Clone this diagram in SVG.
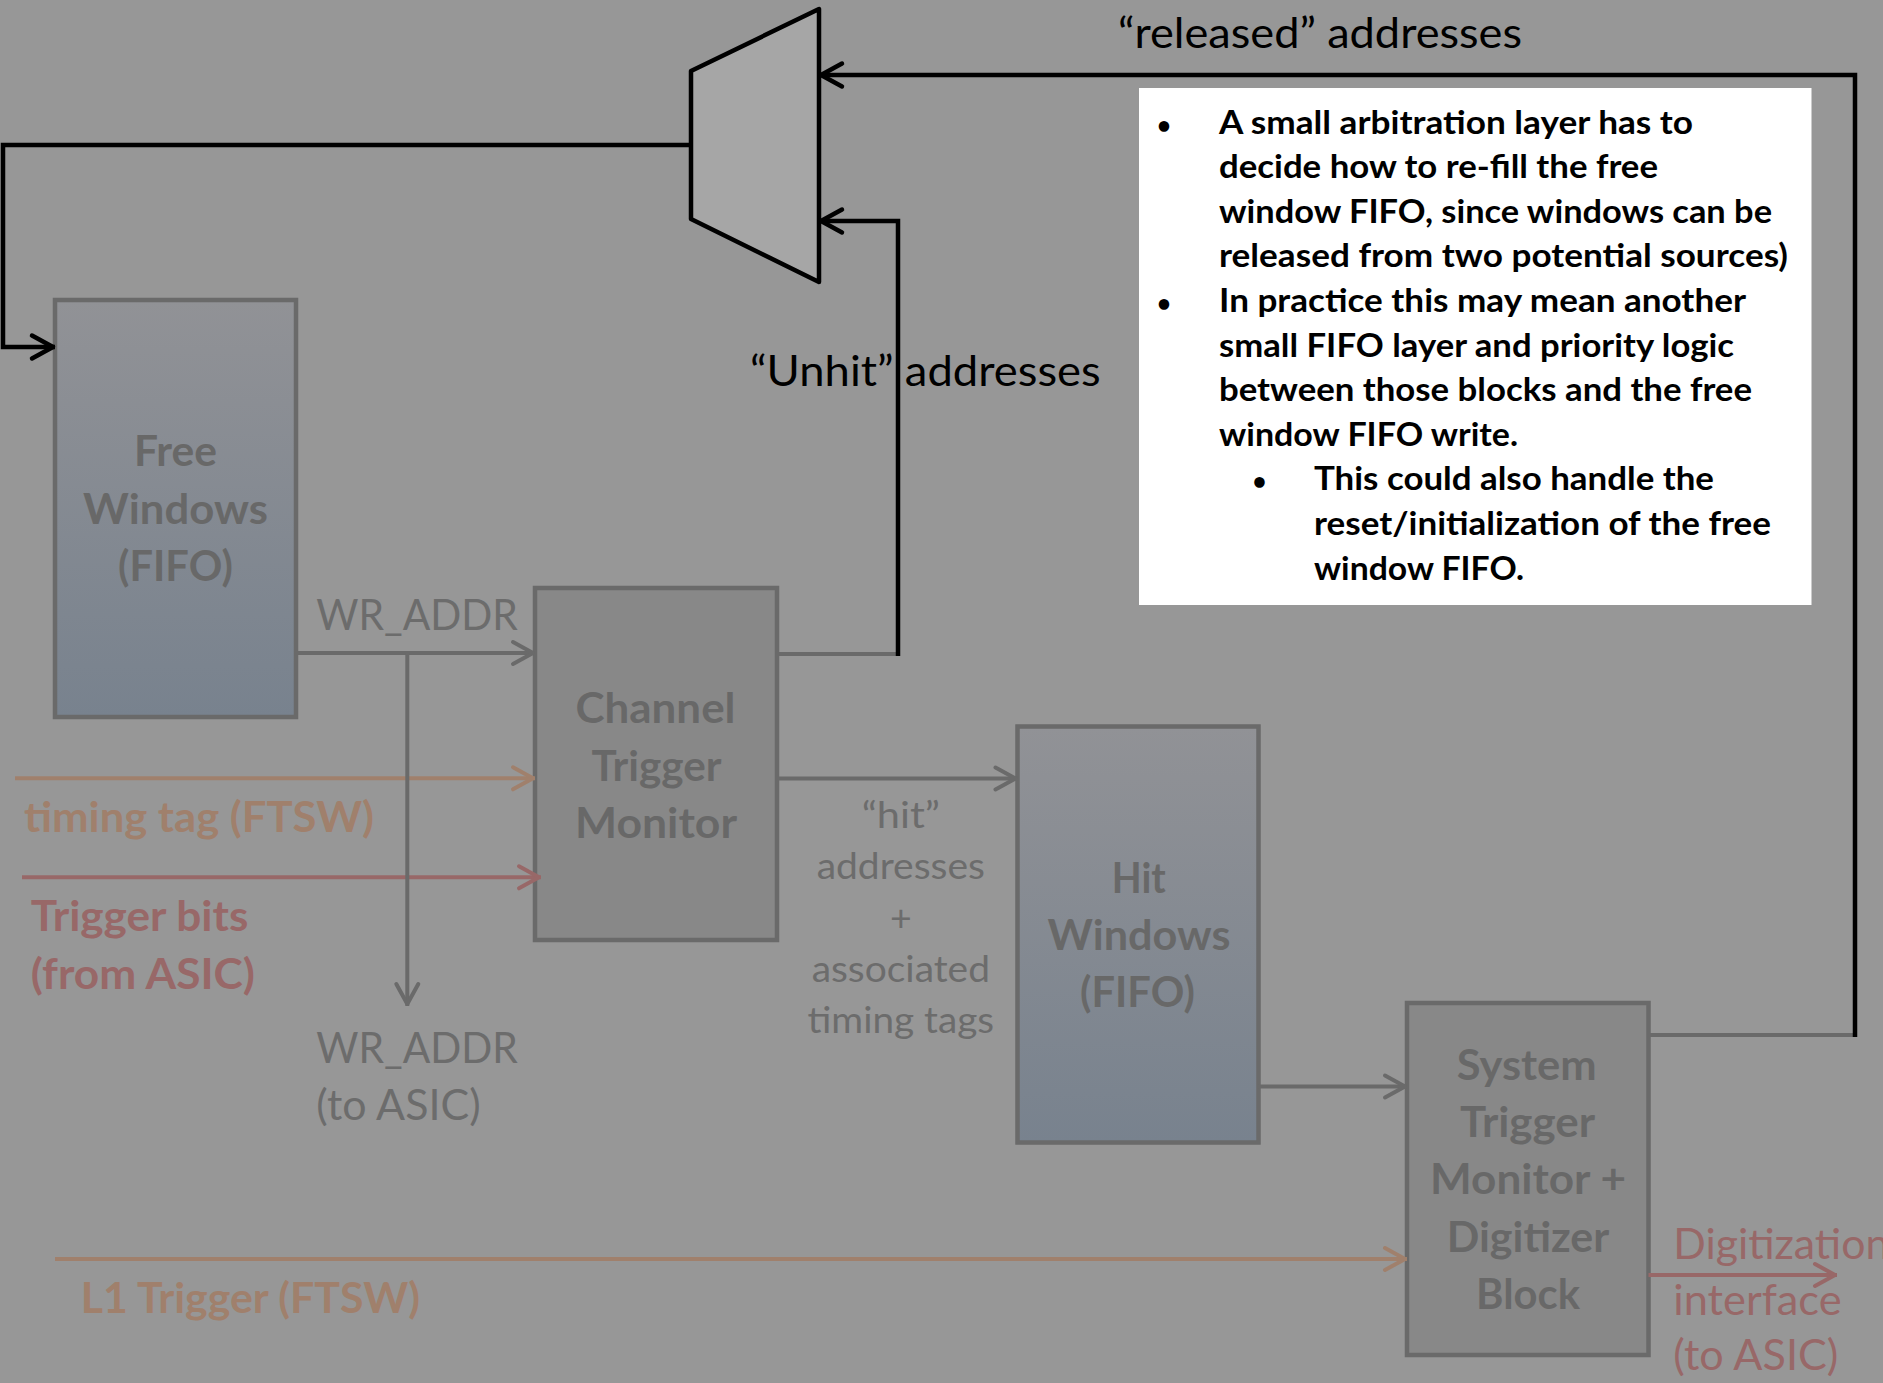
<svg xmlns="http://www.w3.org/2000/svg" width="1883" height="1383" viewBox="0 0 1883 1383">
  <defs>
    <style>
      text { font-family: Lato, "Open Sans", "Liberation Sans", sans-serif; }
      .box { stroke: #6a6a6a; stroke-width: 4.5; }
      .ntxt { fill: #686868; font-weight: 700; font-size: 42px; text-anchor: middle; }
      .glbl { fill: #6c6c6c; font-size: 42px; }
      .hlbl { fill: #6c6c6c; font-size: 37.5px; text-anchor: middle; }
      .blbl { fill: #000; font-size: 42px; }
      .olbl { fill: #a0806c; font-size: 42px; font-weight: 700; }
      .rlbl { fill: #986868; font-size: 42px; font-weight: 700; }
      .rlblr { fill: #986868; font-size: 42px; }
      .note { fill: #000; font-size: 33px; font-weight: 700; }
      .bul { fill: #000; font-size: 24px; font-weight: 700; text-anchor: middle; }
      .cb { fill: none; stroke: #000; stroke-width: 4.5; }
      .cg { fill: none; stroke: #6a6a6a; stroke-width: 4; }
      .co { fill: none; stroke: #a0806c; stroke-width: 4; }
      .cr { fill: none; stroke: #986868; stroke-width: 4; }
    </style>
    <linearGradient id="fifo" x1="0" y1="0" x2="0" y2="1">
      <stop offset="0" stop-color="#919296"/>
      <stop offset="1" stop-color="#78828e"/>
    </linearGradient>
    <marker id="ab" markerUnits="userSpaceOnUse" viewBox="-30 -16 34 32" markerWidth="34" markerHeight="32" refX="0" refY="0" orient="auto">
      <path d="M-23,-11.5 L-2,0 L-23,11.5" fill="none" stroke="#000" stroke-width="4.5" stroke-linecap="round" stroke-linejoin="round"/>
    </marker>
    <marker id="ag" markerUnits="userSpaceOnUse" viewBox="-30 -16 34 32" markerWidth="34" markerHeight="32" refX="0" refY="0" orient="auto">
      <path d="M-22,-11 L-2,0 L-22,11" fill="none" stroke="#6a6a6a" stroke-width="4" stroke-linecap="round" stroke-linejoin="round"/>
    </marker>
    <marker id="ao" markerUnits="userSpaceOnUse" viewBox="-30 -16 34 32" markerWidth="34" markerHeight="32" refX="0" refY="0" orient="auto">
      <path d="M-22,-11 L-2,0 L-22,11" fill="none" stroke="#a0806c" stroke-width="4" stroke-linecap="round" stroke-linejoin="round"/>
    </marker>
    <marker id="ar" markerUnits="userSpaceOnUse" viewBox="-30 -16 34 32" markerWidth="34" markerHeight="32" refX="0" refY="0" orient="auto">
      <path d="M-22,-11 L-2,0 L-22,11" fill="none" stroke="#986868" stroke-width="4" stroke-linecap="round" stroke-linejoin="round"/>
    </marker>
  </defs>

  <rect x="0" y="0" width="1883" height="1383" fill="#979797"/>

  <g id="mux">
    <path d="M819,9 L819,282 L691,219 L691,71 Z" fill="#a6a6a6" stroke="#000" stroke-width="4.5" stroke-linejoin="round"/>
  </g>

  <g id="free-windows">
    <rect class="box" x="55" y="300" width="241" height="417" fill="url(#fifo)"/>
    <text class="ntxt" x="175.5" y="466" textLength="83" lengthAdjust="spacingAndGlyphs">Free</text>
    <text class="ntxt" x="175.5" y="523.5" textLength="185" lengthAdjust="spacingAndGlyphs">Windows</text>
    <text class="ntxt" x="175.5" y="581" textLength="115" lengthAdjust="spacingAndGlyphs">(FIFO)</text>
  </g>

  <g id="channel-trigger-monitor">
    <rect class="box" x="535" y="588" width="242" height="352" fill="#888888"/>
    <text class="ntxt" x="655.5" y="723" textLength="160" lengthAdjust="spacingAndGlyphs">Channel</text>
    <text class="ntxt" x="656.5" y="780.5" textLength="130" lengthAdjust="spacingAndGlyphs">Trigger</text>
    <text class="ntxt" x="656" y="838" textLength="162" lengthAdjust="spacingAndGlyphs">Monitor</text>
  </g>

  <g id="hit-windows">
    <rect class="box" x="1017.5" y="726.5" width="241" height="416" fill="url(#fifo)"/>
    <text class="ntxt" x="1138.8" y="892.7" textLength="54" lengthAdjust="spacingAndGlyphs">Hit</text>
    <text class="ntxt" x="1139" y="950" textLength="183" lengthAdjust="spacingAndGlyphs">Windows</text>
    <text class="ntxt" x="1137.5" y="1007.3" textLength="115" lengthAdjust="spacingAndGlyphs">(FIFO)</text>
  </g>

  <g id="system-trigger-monitor">
    <rect class="box" x="1407" y="1003" width="241.5" height="352" fill="#888888"/>
    <text class="ntxt" x="1526.7" y="1080" textLength="140" lengthAdjust="spacingAndGlyphs">System</text>
    <text class="ntxt" x="1527.5" y="1136.7" textLength="135" lengthAdjust="spacingAndGlyphs">Trigger</text>
    <text class="ntxt" x="1528" y="1194" textLength="196" lengthAdjust="spacingAndGlyphs">Monitor +</text>
    <text class="ntxt" x="1528" y="1251.7" textLength="162.6" lengthAdjust="spacingAndGlyphs">Digitizer</text>
    <text class="ntxt" x="1528" y="1309.3" textLength="104" lengthAdjust="spacingAndGlyphs">Block</text>
  </g>

  <g id="note">
    <rect x="1139" y="88" width="672.5" height="517" fill="#ffffff"/>
    <text class="bul" x="1164" y="133.5">•</text>
    <text class="note" x="1219" y="133.5" textLength="474" lengthAdjust="spacingAndGlyphs">A small arbitration layer has to</text>
    <text class="note" x="1219" y="178.1" textLength="439" lengthAdjust="spacingAndGlyphs">decide how to re-fill the free</text>
    <text class="note" x="1219" y="222.7" textLength="553" lengthAdjust="spacingAndGlyphs">window FIFO, since windows can be</text>
    <text class="note" x="1219" y="267.3" textLength="569" lengthAdjust="spacingAndGlyphs">released from two potential sources)</text>
    <text class="bul" x="1164" y="311.9">•</text>
    <text class="note" x="1219" y="311.9" textLength="527" lengthAdjust="spacingAndGlyphs">In practice this may mean another</text>
    <text class="note" x="1219" y="356.5" textLength="515" lengthAdjust="spacingAndGlyphs">small FIFO layer and priority logic</text>
    <text class="note" x="1219" y="401.1" textLength="533" lengthAdjust="spacingAndGlyphs">between those blocks and the free</text>
    <text class="note" x="1219" y="445.7" textLength="299" lengthAdjust="spacingAndGlyphs">window FIFO write.</text>
    <text class="bul" x="1259.5" y="490.3">•</text>
    <text class="note" x="1314" y="490.3" textLength="400" lengthAdjust="spacingAndGlyphs">This could also handle the</text>
    <text class="note" x="1314" y="534.9" textLength="457" lengthAdjust="spacingAndGlyphs">reset/initialization of the free</text>
    <text class="note" x="1314" y="579.5" textLength="210" lengthAdjust="spacingAndGlyphs">window FIFO.</text>
  </g>

  <g id="connectors">
    <path class="cb" d="M691,145 H3 V347 H55" marker-end="url(#ab)"/>
    <path class="cg" d="M1648.5,1035 H1857"/>
    <path class="cb" d="M1855,1037 V75 H819" marker-end="url(#ab)"/>
    <path class="cg" d="M777,654 H900"/>
    <path class="cb" d="M898,656 V221 H819" marker-end="url(#ab)"/>
    <path class="cg" d="M296,653 H535" marker-end="url(#ag)"/>
    <path class="cg" d="M777,778.5 H1017.5" marker-end="url(#ag)"/>
    <path class="cg" d="M1258.5,1086.5 H1407" marker-end="url(#ag)"/>
    <path class="co" d="M15,778.3 H535" marker-end="url(#ao)"/>
    <path class="cr" d="M22,877.3 H541" marker-end="url(#ar)"/>
    <path class="co" d="M55,1259 H1407" marker-end="url(#ao)"/>
    <path class="cr" d="M1648.5,1275 H1837" marker-end="url(#ar)"/>
    <path class="cg" d="M407.3,653 V1006" marker-end="url(#ag)"/>
  </g>

  <g id="labels">
    <text class="blbl" x="1118" y="47.5" textLength="404" lengthAdjust="spacingAndGlyphs">“released” addresses</text>
    <text class="blbl" x="750" y="386" textLength="350.7" lengthAdjust="spacingAndGlyphs">“Unhit” addresses</text>
    <text class="glbl" x="316.3" y="630" textLength="201.6" lengthAdjust="spacingAndGlyphs">WR_ADDR</text>
    <text class="glbl" x="316.3" y="1063" textLength="201.6" lengthAdjust="spacingAndGlyphs">WR_ADDR</text>
    <text class="glbl" x="316.3" y="1120.3" textLength="164.3" lengthAdjust="spacingAndGlyphs">(to ASIC)</text>
    <text class="hlbl" x="900.8" y="828.3" textLength="78.3" lengthAdjust="spacingAndGlyphs">“hit”</text>
    <text class="hlbl" x="900.8" y="879.3" textLength="168.3" lengthAdjust="spacingAndGlyphs">addresses</text>
    <text class="hlbl" x="900.8" y="930.5">+</text>
    <text class="hlbl" x="900.8" y="981.7" textLength="178.3" lengthAdjust="spacingAndGlyphs">associated</text>
    <text class="hlbl" x="900.8" y="1032.7" textLength="186.7" lengthAdjust="spacingAndGlyphs">timing tags</text>
    <text class="olbl" x="24" y="831.7" textLength="350" lengthAdjust="spacingAndGlyphs">timing tag (FTSW)</text>
    <text class="rlbl" x="30.7" y="930.7" textLength="217.7" lengthAdjust="spacingAndGlyphs">Trigger bits</text>
    <text class="rlbl" x="30.7" y="989.3" textLength="224.3" lengthAdjust="spacingAndGlyphs">(from ASIC)</text>
    <text class="olbl" x="80.7" y="1312.7" textLength="339.3" lengthAdjust="spacingAndGlyphs">L1 Trigger (FTSW)</text>
    <text class="rlblr" x="1673.3" y="1259.3" textLength="216" lengthAdjust="spacingAndGlyphs">Digitization</text>
    <text class="rlblr" x="1673.3" y="1315" textLength="168.3" lengthAdjust="spacingAndGlyphs">interface</text>
    <text class="rlblr" x="1673.3" y="1370" textLength="165" lengthAdjust="spacingAndGlyphs">(to ASIC)</text>
  </g>
</svg>
